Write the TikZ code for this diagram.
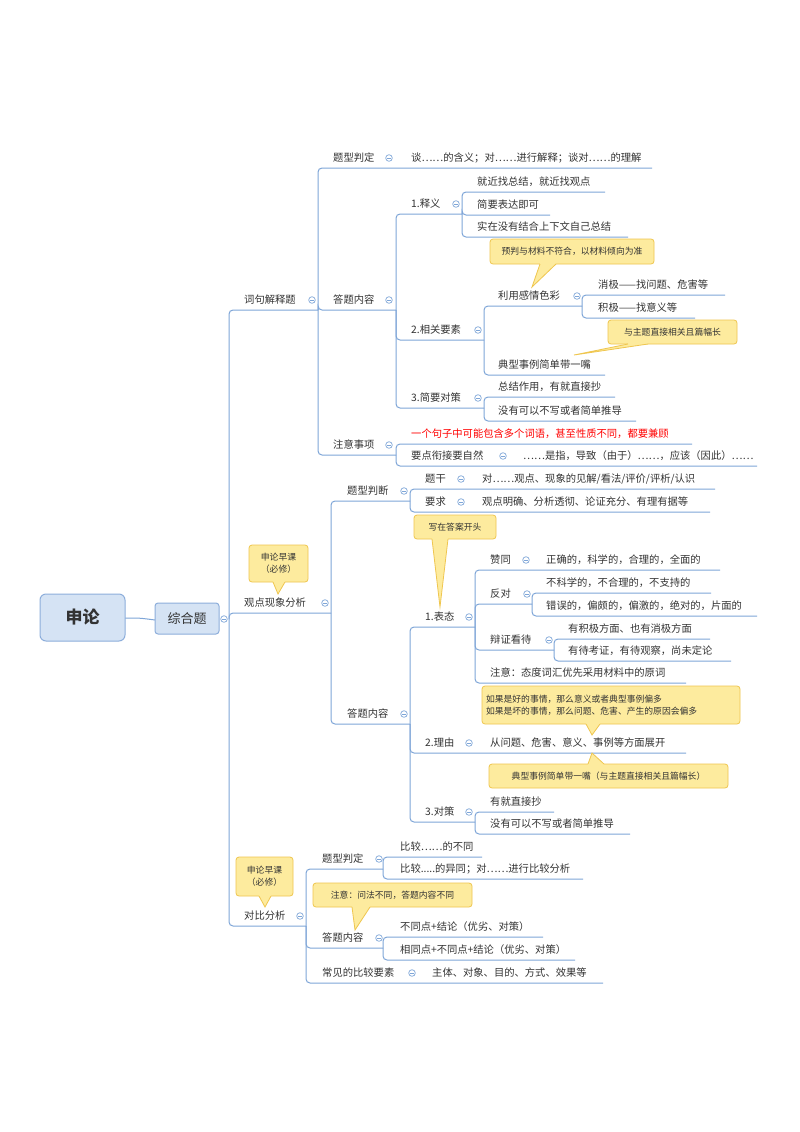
\documentclass[tikz,border=0pt]{standalone}
\usepackage{fontspec}
\setmainfont{Noto Sans CJK SC}
\newfontfamily\cjk{Noto Sans CJK SC}
\definecolor{lnc}{HTML}{7FA6D8}
\definecolor{txc}{HTML}{333333}
\definecolor{cfill}{HTML}{FDEB9E}
\definecolor{cbord}{HTML}{EFC64F}
\definecolor{rfill}{HTML}{D5E3F4}
\definecolor{rbord}{HTML}{8DAEDB}
\newcounter{nn}
\tikzset{ln/.style={draw=lnc,line width=1pt},
txt/.style={anchor=west,inner sep=0pt,text=txc,font=\fontsize{10.3}{12}\selectfont},
ctxt/.style={inner sep=0pt,text=txc,font=\fontsize{8.8}{12}\selectfont,align=center}}
\newcommand\tp[7][txc]{\stepcounter{nn}\draw[ln,rounded corners=4pt] (#2,#3) -- (#2,#4) -- (#5,#4);
\node[txt,text=#1] (n\arabic{nn}) at (#6,{#4-10}) {#7};}
\newcommand\lf[3]{\stepcounter{nn}\node[txt] (n\arabic{nn}) at (#1,{#2-10}) {#3};}
\newcommand\cc[2]{\draw[lnc,line width=0.7pt,fill=white] (#1,#2) circle (3.3pt);\draw[lnc,line width=0.7pt] ({#1-1.8},#2)--({#1+1.8},#2);}
% callout: x1 y1 x2 y2 bx1 bx2 tipx tipy text
\newcommand\callout[9]{\stepcounter{nn}
\draw[cbord,fill=cfill,line width=0.8pt,rounded corners=3pt] (#1,#2) rectangle (#3,#4);
\ifdim #8pt>#4pt \def\by{#4}\else\def\by{#2}\fi
\fill[cfill] (#5,\by) -- (#7,#8) -- (#6,\by) -- cycle;
\fill[cfill] (#5,{\by+(#8>#4 ? -1.5 : 1.5)}) rectangle (#6,\by);
\draw[cbord,line width=0.8pt] (#5,\by) -- (#7,#8) -- (#6,\by);
\node[ctxt] (n\arabic{nn}) at ({(#1+#3)/2},{(#2+#4)/2}) {#9};}
\begin{document}
\begin{tikzpicture}[x=1pt,y=-1pt]
\useasboundingbox[fill=white] (0,0) rectangle (800,1132);
% root
\draw[ln] (125,618) .. controls (140,618) .. (155,620);
\node[draw=rbord,fill=rfill,line width=1pt,rounded corners=6pt,minimum width=85pt,minimum height=47pt,text=txc,font=\fontsize{17}{20}\selectfont\bfseries] (root) at (82.5,617.5) {申论};
\node[draw=rbord,fill=rfill,line width=1pt,rounded corners=3pt,minimum width=64pt,minimum height=31pt,text=txc,font=\fontsize{13}{16}\selectfont] (zh) at (187,618.5) {综合题};
% level 1
\tp{229}{619}{310}{318}{244}{词句解释题}
\tp{229}{619}{613}{331}{244}{观点现象分析}
\tp{229}{619}{926}{306}{244}{对比分析}
\cc{224}{619}
% 词句解释题
\tp{318}{310}{168}{652}{333}{题型判定}\lf{411}{168}{谈……的含义；对……进行解释；谈对……的理解}\cc{389}{158}
\tp{318}{310}{310}{396}{333}{答题内容}\cc{389}{300}
\tp{318}{310}{455}{396}{333}{注意事项}\cc{389}{445}
\cc{312}{300}
\tp{396}{310}{214}{462}{411}{1.释义}\cc{456}{204}
\tp{396}{310}{340}{484}{411}{2.相关要素}\cc{478}{330}
\tp{396}{310}{408}{484}{411}{3.简要对策}\cc{478}{398}
\tp{462}{214}{192}{605}{477}{就近找总结，就近找观点}
\tp{462}{214}{215}{550}{477}{简要表达即可}
\tp{462}{214}{237}{628}{477}{实在没有结合上下文自己总结}
\tp{484}{340}{306}{582}{498}{利用感情色彩}\cc{577}{296}
\tp{484}{340}{375}{605}{498}{典型事例简单带一嘴}
\tp{582}{306}{295}{725}{598}{消极——找问题、危害等}
\tp{582}{306}{318}{695}{598}{积极——找意义等}
\tp{484}{408}{397}{615}{498}{总结作用，有就直接抄}
\tp{484}{408}{421}{636}{498}{没有可以不写或者简单推导}
\tp[red]{396}{455}{444}{692}{411}{一个句子中可能包含多个词语，甚至性质不同，都要兼顾}
\tp{396}{455}{466}{757}{411}{要点衔接要自然}\cc{503}{456}\lf{523}{466}{……是指，导致（由于）……，应该（因此）……}
% 观点现象分析
\cc{325}{603}
\tp{331}{613}{501}{410}{347}{题型判断}\cc{404}{491}
\tp{331}{613}{724}{410}{347}{答题内容}\cc{404}{714}
\tp{410}{501}{489}{715}{425}{题干}\cc{461}{479}\lf{482}{489}{对……观点、现象的见解/看法/评价/评析/认识}
\tp{410}{501}{512}{710}{425}{要求}\cc{461}{502}\lf{482}{512}{观点明确、分析透彻、论证充分、有理有据等}
\tp{410}{724}{627}{475}{425}{1.表态}\cc{469}{617}
\tp{410}{724}{753}{686}{425}{2.理由}\cc{469}{743}\lf{490}{753}{从问题、危害、意义、事例等方面展开}
\tp{410}{724}{822}{475}{425}{3.对策}\cc{469}{812}
\tp{475}{627}{570}{720}{490}{赞同}\cc{526}{560}\lf{546}{570}{正确的，科学的，合理的，全面的}
\tp{475}{627}{604}{532}{490}{反对}\cc{527}{594}
\tp{475}{627}{650}{554}{490}{辩证看待}\cc{549}{640}
\tp{475}{627}{683}{686}{490}{注意：态度词汇优先采用材料中的原词}
\tp{532}{604}{593}{711}{546}{不科学的，不合理的，不支持的}
\tp{532}{604}{616}{757}{546}{错误的，偏颇的，偏激的，绝对的，片面的}
\tp{554}{650}{639}{710}{568}{有积极方面、也有消极方面}
\tp{554}{650}{661}{731}{568}{有待考证，有待观察，尚未定论}
\tp{475}{822}{812}{554}{490}{有就直接抄}
\tp{475}{822}{834}{630}{490}{没有可以不写或者简单推导}
% 对比分析
\cc{300}{916}
\tp{306}{926}{869}{383}{322}{题型判定}\cc{379}{859}
\tp{306}{926}{948}{383}{322}{答题内容}\cc{379}{938}
\tp{306}{926}{983}{603}{322}{常见的比较要素}\cc{412}{973}\lf{432}{983}{主体、对象、目的、方式、效果等}
\tp{383}{869}{857}{482}{400}{比较……的不同}
\tp{383}{869}{879}{583}{400}{比较.....的异同；对……进行比较分析}
\tp{383}{948}{937}{543}{400}{不同点+结论（优劣、对策）}
\tp{383}{948}{960}{575}{400}{相同点+不同点+结论（优劣、对策）}
% callouts
\callout{490}{239}{654}{264}{540}{556}{532}{287}{预判与材料不符合，以材料倾向为准}
\callout{608}{320}{737}{344}{628}{648}{574}{355}{与主题直接相关且篇幅长}
\callout{414}{515}{496}{539}{432}{448}{440}{607}{写在答案开头}
\callout{249}{545}{308}{582}{273}{285}{278}{594}{申论早课\\（必修）}
\callout{482}{686}{740}{724}{586}{600}{592}{735}{\parbox{250pt}{\raggedright 如果是好的事情，那么意义或者典型事例偏多\\如果是坏的事情，那么问题、危害、产生的原因会偏多}}
\callout{489}{764}{728}{788}{588}{604}{592}{753}{典型事例简单带一嘴（与主题直接相关且篇幅长）}
\callout{236}{857}{293}{896}{259}{271}{265}{907}{申论早课\\（必修）}
\callout{313}{883}{472}{907}{352}{370}{355}{930}{注意：问法不同，答题内容不同}
\end{tikzpicture}
\end{document}
